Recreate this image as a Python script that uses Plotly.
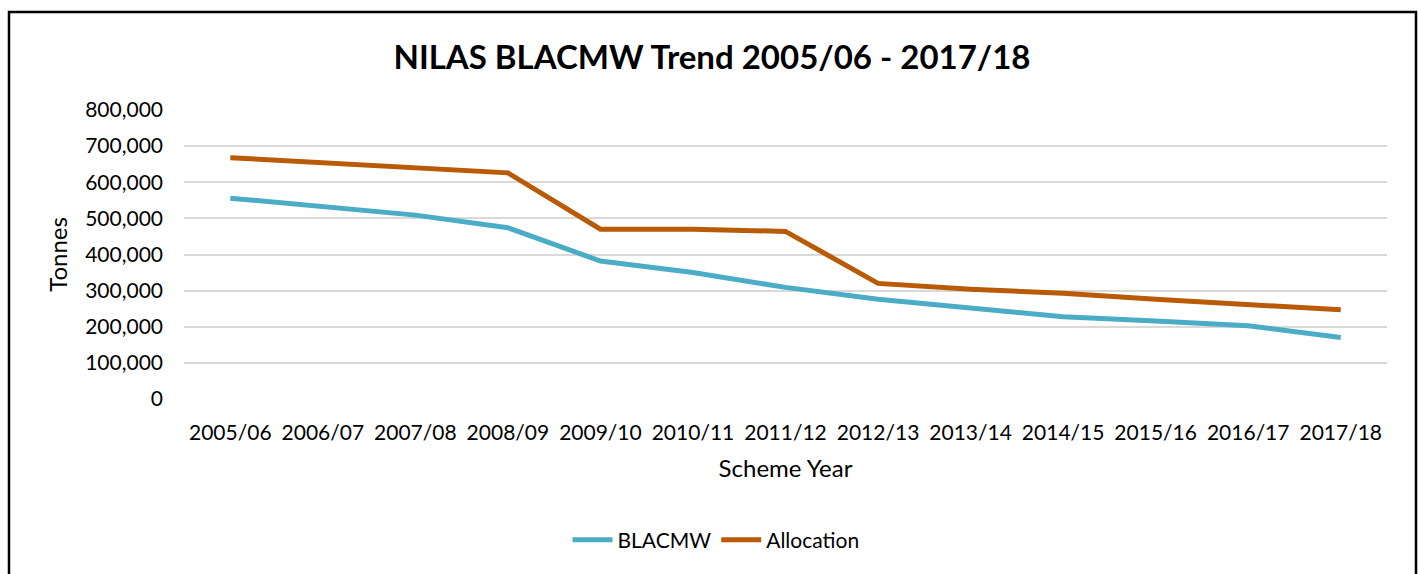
import plotly.graph_objects as go

years = ["2005/06", "2006/07", "2007/08", "2008/09", "2009/10", "2010/11", "2011/12",
         "2012/13", "2013/14", "2014/15", "2015/16", "2016/17", "2017/18"]
blacmw = [556000, 532000, 509000, 474000, 382000, 350000, 309000,
          276000, 251000, 228000, 216000, 203000, 170000]
allocation = [668000, 654000, 640000, 626000, 470000, 470000, 464000,
              320000, 304000, 293000, 276000, 262000, 247000]

FONT = "Lato, 'Open Sans', sans-serif"
W, H = 1418, 574
# plot area in pixels: x 184..1387, y 110..399
L, R, T, B = 184, 1418 - 1387, 110, 574 - 399
pw, ph = W - L - R, H - T - B

def px_x(p):
    return (p - L) / pw

def px_y(p):
    return (H - B - p) / ph

fig = go.Figure()
fig.add_trace(go.Scatter(x=years, y=blacmw, mode="lines", name="BLACMW",
                         line=dict(color="#4bacc6", width=5)))
fig.add_trace(go.Scatter(x=years, y=allocation, mode="lines", name="Allocation",
                         line=dict(color="#b85a06", width=5)))

fig.update_layout(
    width=W, height=H,
    margin=dict(l=L, r=R, t=T, b=B, autoexpand=False),
    paper_bgcolor="white", plot_bgcolor="white",
    font=dict(family=FONT, size=21, color="#000000"),
    title=dict(text="<b>NILAS BLACMW Trend 2005/06 - 2017/18</b>",
               x=712 / W, xanchor="center",
               y=1 - 57 / H, yanchor="middle",
               font=dict(family=FONT, size=33, color="#000000")),
    showlegend=True,
    legend=dict(orientation="h", x=px_x(716), xanchor="center", y=px_y(540), yanchor="middle",
                font=dict(size=21), itemwidth=40, traceorder="normal"),
    xaxis=dict(type="category", showgrid=False, zeroline=False, showline=False,
               ticks="", ticklabelstandoff=19,
               title=dict(text="Scheme Year", standoff=17, font=dict(size=24)),
               range=[-0.5, len(years) - 0.5]),
    yaxis=dict(range=[0, 800000], dtick=100000, tickformat=",", showgrid=True,
               gridcolor="#d9d9d9", gridwidth=1.5, zeroline=False, showline=False,
               ticks="", ticklabelstandoff=20,
               title=dict(text="Tonnes", standoff=10, font=dict(size=24))),
    shapes=[dict(type="rect", xref="paper", yref="paper",
                 x0=px_x(9), x1=px_x(1416), y0=px_y(590), y1=px_y(12),
                 line=dict(color="#000000", width=2.5), fillcolor="rgba(0,0,0,0)",
                 layer="below")],
)

fig.write_html(
    "out.html",
    config={"displayModeBar": False},
    post_script="document.body.style.margin='0';document.body.style.overflow='hidden';",
)
